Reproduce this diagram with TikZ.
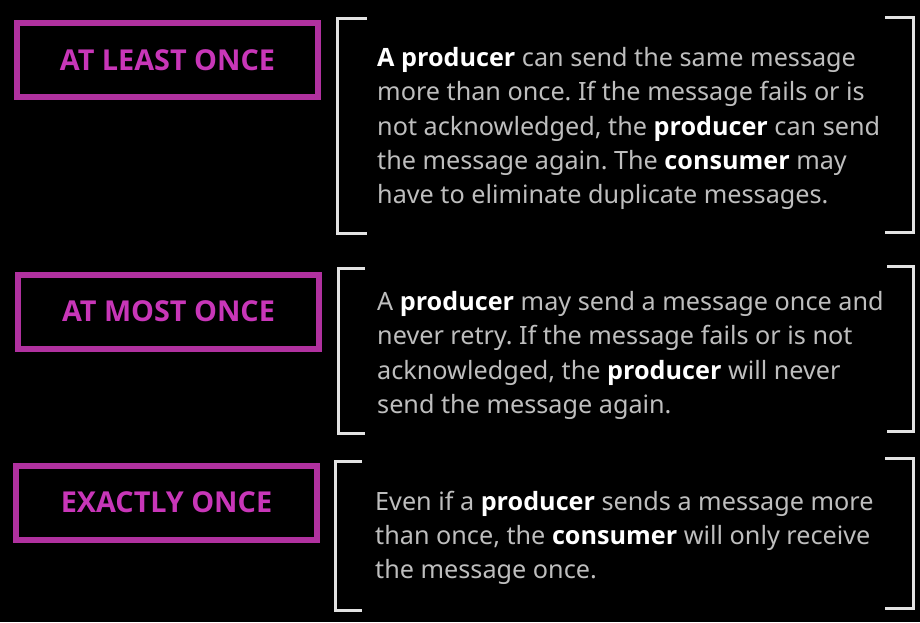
\documentclass[tikz,border=0pt]{standalone}
\usepackage{fontspec}
\setmainfont{Noto Sans}
\newfontfamily\boldfam{Open Sans}
\frenchspacing
\definecolor{boxmag}{HTML}{B0319F}
\definecolor{txtmag}{HTML}{C836B8}
\definecolor{bodygray}{HTML}{BEBEBE}
\definecolor{brk}{HTML}{E2E2E2}
\tikzset{
  x=1pt, y=-1pt,
  headbox/.style={draw=boxmag, line width=6pt, minimum width=301pt, minimum height=74pt,
    text=txtmag, font=\fontsize{28.8}{32}\selectfont\boldfam\bfseries, inner sep=0pt},
  para/.style={anchor=west, align=left, inner sep=0pt, text=bodygray,
    font=\fontsize{25.2}{34.3}\selectfont},
  brack/.style={draw=brk, line width=3pt}
}
\newcommand{\hl}[1]{{\boldfam\bfseries\color{white}#1}}
\begin{document}
\begin{tikzpicture}
\fill[black] (0,0) rectangle (920,622);
\useasboundingbox (0,0) rectangle (920,622);

\node[headbox] (h1) at (167.5,60) {AT LEAST ONCE};
\node[headbox] (h2) at (168.5,311.5) {AT MOST ONCE};
\node[headbox] (h3) at (166.5,502.5) {EXACTLY ONCE};

\draw[brack] (367,18) -- (337,18) -- (337,233) -- (367,233);
\draw[brack] (885,17) -- (913,17) -- (913,232) -- (885,232);
\draw[brack] (365,268) -- (338,268) -- (338,433) -- (365,433);
\draw[brack] (887,266) -- (913,266) -- (913,431) -- (887,431);
\draw[brack] (362,461) -- (335,461) -- (335,610) -- (362,610);
\draw[brack] (885,458) -- (913,458) -- (913,608) -- (885,608);

\node[para] (p1) at (377,128.5) {\hl{A producer} can send the same message\\more than once. If the message fails or is\\not acknowledged, the \hl{producer} can send\\the message again. The \hl{consumer} may\\have to eliminate duplicate messages.};
\node[para] (p2) at (377,355.5) {A \hl{producer} may send a message once and\\never retry. If the message fails or is not\\acknowledged, the \hl{producer} will never\\send the message again.};
\node[para] (p3) at (375,538) {Even if a \hl{producer} sends a message more\\than once, the \hl{consumer} will only receive\\the message once.};
\end{tikzpicture}
\end{document}
